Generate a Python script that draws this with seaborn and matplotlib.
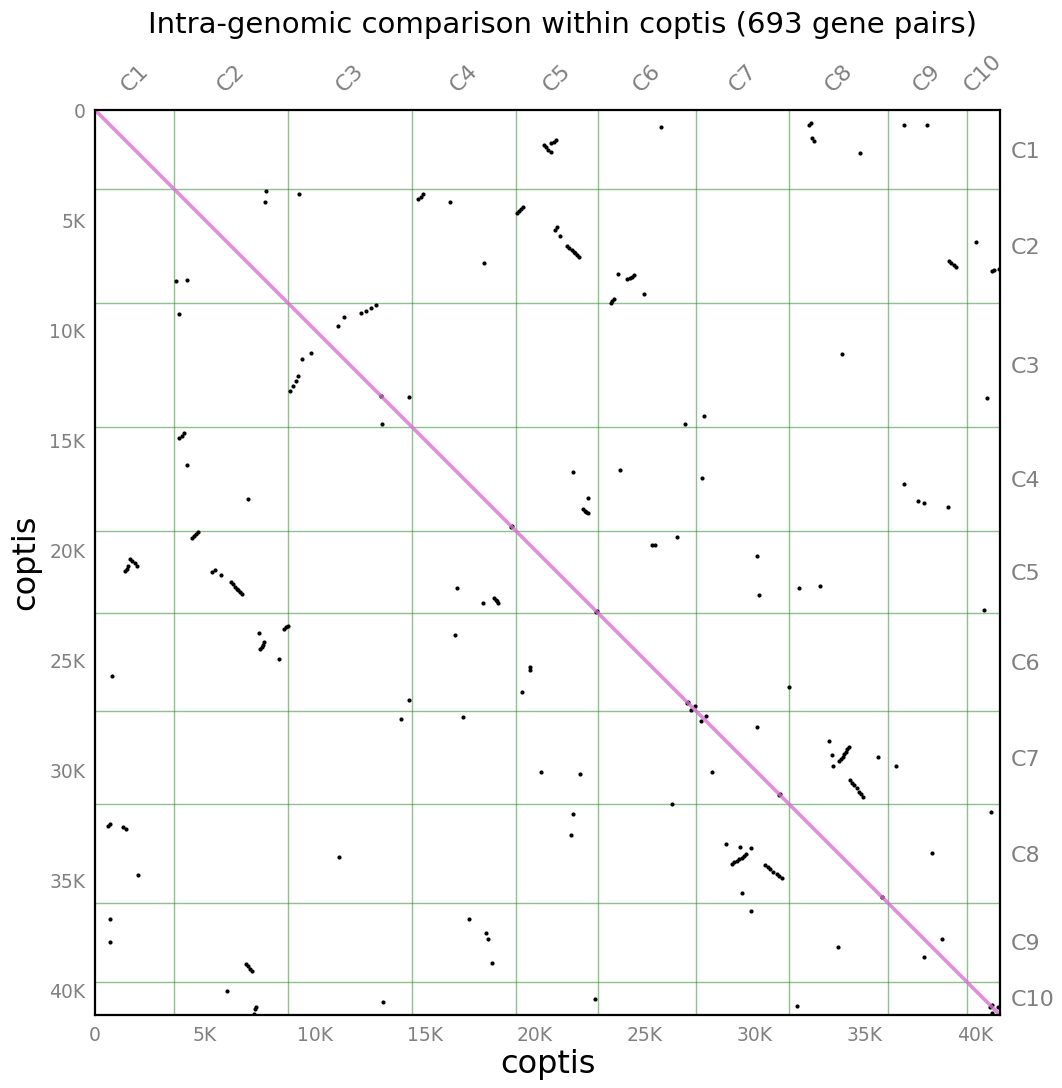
import numpy as np
import pandas as pd
import matplotlib
matplotlib.use("Agg")
import matplotlib.pyplot as plt
import seaborn as sns

# Chromosome layout (cumulative gene index at the end of each chromosome)
chrom_names = ["C1", "C2", "C3", "C4", "C5", "C6", "C7", "C8", "C9", "C10"]
chrom_ends = [3600, 8786, 14409, 19127, 22841, 27309, 31555, 36036, 39636, 41136]

# Syntenic anchor pairs (gene index, thousands): one copy on each side
gene_a = [
    7.76, 7.74, 9.28, 14.70, 14.80, 14.90, 16.15,
    19.20, 19.29, 19.38, 19.47, 17.66,
    11.06, 11.33, 12.10, 12.34, 12.56, 12.79,
    25.73, 20.41, 20.51, 20.61, 20.71, 20.74, 20.85, 20.97,
    32.45, 32.53, 32.58, 32.68, 34.76, 36.79, 37.83,
    21.01, 20.89, 21.15,
    21.44, 21.55, 21.67, 21.75, 21.83, 21.91, 21.99,
    23.76, 24.19, 24.30, 24.40, 24.50, 24.94,
    23.44, 23.52, 23.59, 40.03,
    38.80, 38.92, 39.03, 39.15, 40.78, 40.85, 41.09,
    13.00, 14.27, 26.82, 27.67, 21.74, 23.86, 27.60, 22.39,
    22.20, 22.27, 22.33, 22.39, 18.94, 26.44, 25.30, 25.45, 22.80,
    33.97, 40.56, 36.77, 37.41, 37.68, 38.79,
    30.10, 30.18, 31.99, 32.94, 40.40,
    26.94, 27.25, 27.75, 31.55, 30.10, 33.36, 33.49, 33.53,
    33.83, 33.90, 33.98, 34.05, 34.12, 34.19, 34.26,
    35.60, 36.41,
    34.32, 34.41, 34.50, 34.62, 34.74, 34.83, 34.92,
    31.14, 40.71, 38.03, 35.79, 38.51, 40.76, 41.06,
]
gene_b = [
    3.67, 4.20, 3.83, 4.06, 3.95, 3.84, 4.18,
    4.68, 4.59, 4.51, 4.42, 6.97,
    9.82, 9.41, 9.22, 9.15, 9.01, 8.88,
    0.79, 1.59, 1.70, 1.80, 1.90, 1.51, 1.44, 1.36,
    0.70, 0.60, 1.27, 1.40, 1.94, 0.70, 0.70,
    5.30, 5.45, 5.73,
    6.18, 6.27, 6.36, 6.44, 6.51, 6.59, 6.67,
    7.45, 7.70, 7.64, 7.58, 7.52, 8.35,
    8.79, 8.70, 8.60, 5.99,
    6.86, 6.96, 7.05, 7.15, 7.30, 7.27, 7.24,
    12.98, 13.03, 14.27, 13.91, 16.44, 16.36, 16.73, 17.65,
    18.15, 18.21, 18.27, 18.33, 18.91, 19.41, 19.76, 19.76, 22.77,
    11.09, 13.09, 16.99, 17.76, 17.88, 18.03,
    20.26, 22.03, 21.73, 21.65, 22.73,
    26.89, 27.08, 27.53, 26.24, 28.03, 28.68, 29.32, 29.82,
    29.59, 29.49, 29.39, 29.28, 29.16, 29.06, 28.97,
    29.39, 29.82,
    30.45, 30.57, 30.68, 30.80, 30.98, 31.11, 31.24,
    31.10, 31.89, 33.77, 35.76, 37.68, 40.68, 40.76,
]

tick_values = [0, 5000, 10000, 15000, 20000, 25000, 30000, 35000, 40000]
tick_labels = ["0", "5K", "10K", "15K", "20K", "25K", "30K", "35K", "40K"]

title_text = "Intra-genomic comparison within coptis (693 gene pairs)"
species = "coptis"

# Every pair is drawn in both orientations, so the dot plot is symmetric
a = np.array(gene_a) * 1000
b = np.array(gene_b) * 1000
pairs = pd.DataFrame({"x": np.concatenate([a, b]), "y": np.concatenate([b, a])})

sns.set_style("white")
plt.rcParams["font.family"] = ["DejaVu Sans"]

W, H = 1062, 1088
fig = plt.figure(figsize=(W / 100, H / 100), dpi=100)
ax = fig.add_axes([95 / W, 1 - 1015 / H, 905 / W, 905 / H])

total = chrom_ends[-1]
ax.set_xlim(0, total)
ax.set_ylim(total, 0)

# chromosome boundaries
for e in chrom_ends[:-1]:
    ax.axvline(e, color="#2f8f2f", alpha=0.55, lw=1.0, zorder=1)
    ax.axhline(e, color="#2f8f2f", alpha=0.55, lw=1.0, zorder=1)

sns.scatterplot(data=pairs, x="x", y="y", ax=ax, color="black", s=9,
                linewidth=0, marker="o", zorder=3, legend=False)

# self-comparison diagonal
ax.plot([0, total], [0, total], color="orchid", lw=2.6, alpha=0.8,
        zorder=4, solid_capstyle="butt")

ax.set_xticks(tick_values)
ax.set_xticklabels(tick_labels)
ax.set_yticks(tick_values)
ax.set_yticklabels(tick_labels)
ax.tick_params(axis="both", length=0, labelsize=13.5, labelcolor="#808080")
ax.tick_params(axis="x", pad=8)
ax.tick_params(axis="y", pad=7)
ax.set_xlabel(species, fontsize=23, labelpad=3, color="black")
ax.set_ylabel(species, fontsize=23, labelpad=6, color="black")

for sp in ax.spines.values():
    sp.set_visible(True)
    sp.set_color("black")
    sp.set_linewidth(1.6)
    sp.set_zorder(6)

# chromosome names at the chromosome midpoints
starts = [0] + chrom_ends[:-1]
mids = [(s + e) / 2 for s, e in zip(starts, chrom_ends)]

ax_top = ax.twiny()
ax_top.set_xlim(ax.get_xlim())
ax_top.set_xticks(mids)
ax_top.set_xticklabels(chrom_names, rotation=45)
ax_top.tick_params(axis="x", length=0, labelsize=16, labelcolor="#808080", pad=10)

ax_right = ax.twinx()
ax_right.set_ylim(ax.get_ylim())
ax_right.set_yticks(mids)
ax_right.set_yticklabels(chrom_names)
ax_right.tick_params(axis="y", length=0, labelsize=16, labelcolor="#808080", pad=8)
for axx in (ax_top, ax_right):
    for sp in axx.spines.values():
        sp.set_visible(False)
ax_top.grid(False)
ax_right.grid(False)

fig.text(562 / W, 1 - 25 / H, title_text, color="black",
         ha="center", va="center", fontsize=21)

fig.savefig("out.png", dpi=100)
